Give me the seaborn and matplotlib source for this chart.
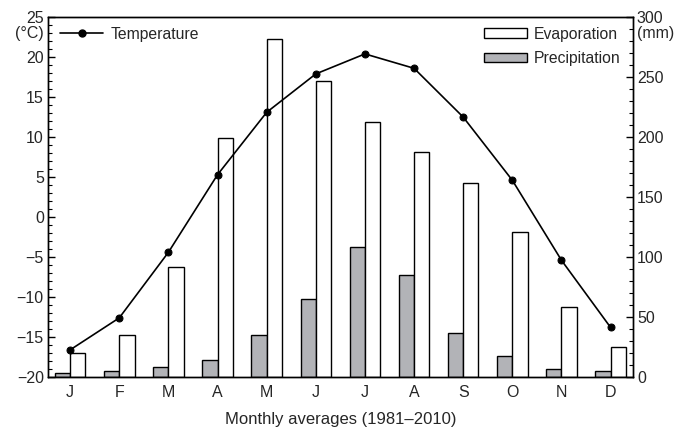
# %%
import numpy as np
import pandas as pd
import matplotlib

matplotlib.use("Agg")
import matplotlib.pyplot as plt
import seaborn as sns
from matplotlib.lines import Line2D
from matplotlib.patches import Patch
from matplotlib.ticker import MultipleLocator

# %%
meses = ["J", "F", "M", "A", "M", "J", "J", "A", "S", "O", "N", "D"]
temperatura = [-16.6, -12.6, -4.4, 5.3, 13.1, 17.9, 20.4, 18.6, 12.5, 4.6, -5.4, -13.8]
evaporacao = [20, 35, 92, 199, 282, 247, 213, 188, 162, 121, 58, 25]
precipitacao = [3, 5, 8, 14, 35, 65, 108, 85, 37, 17.5, 7, 4.7]

cinza = "#b2b3b7"

df = pd.DataFrame(
    {
        "mes": list(range(12)) * 2,
        "mm": precipitacao + evaporacao,
        "serie": ["Precipitation"] * 12 + ["Evaporation"] * 12,
    }
)

# %%
sns.set_style("ticks")
plt.rcParams["font.family"] = ["Liberation Sans", "DejaVu Sans"]
plt.rcParams["font.size"] = 11.5

fig = plt.figure(figsize=(6.9, 4.28), dpi=100)
ax = fig.add_axes([0.0696, 0.119, 0.8474, 0.841])
ax2 = ax.twinx()

# barras no eixo da direita (mm)
sns.barplot(
    data=df,
    x="mes",
    y="mm",
    hue="serie",
    hue_order=["Precipitation", "Evaporation"],
    palette={"Precipitation": cinza, "Evaporation": "white"},
    edgecolor="black",
    linewidth=1,
    width=0.62,
    saturation=1,
    errorbar=None,
    legend=False,
    ax=ax,
)
ax.set_ylim(0, 300)
ax.set(ylabel="")
ax.set_xlabel("Monthly averages (1981–2010)", fontsize=12, labelpad=8)
ax.set_xticks(range(12))
ax.set_xticklabels(meses)

# linha de temperatura no eixo da esquerda
sns.lineplot(
    x=list(range(12)),
    y=temperatura,
    color="black",
    marker="o",
    markersize=5,
    markeredgecolor="black",
    linewidth=1.2,
    ax=ax2,
)
ax2.set_ylim(-20, 25)
ax2.set_xlim(-0.45, 11.45)

ax.yaxis.tick_right()
ax2.yaxis.tick_left()
ax.yaxis.set_major_locator(MultipleLocator(50))
ax.yaxis.set_minor_locator(MultipleLocator(10))
ax2.yaxis.set_major_locator(MultipleLocator(5))
ax2.yaxis.set_minor_locator(MultipleLocator(1))

for a in (ax, ax2):
    a.tick_params(axis="y", which="major", direction="in", length=5, width=1,
                  labelsize=11.5, pad=3, color="black")
    a.tick_params(axis="y", which="minor", direction="in", length=3, width=0.8,
                  color="black")
    for s in a.spines.values():
        s.set_linewidth(1)
        s.set_color("black")
ax.tick_params(axis="x", length=0, labelsize=11.5, pad=6)
ax2.tick_params(axis="x", length=0)

fig.text(0.063, 0.922, "(°C)", fontsize=11.5, ha="right", va="center")
fig.text(0.923, 0.922, "(mm)", fontsize=11.5, ha="left", va="center")

# legendas
leg1 = ax2.legend(
    handles=[Line2D([0], [0], color="black", marker="o", markersize=5, linewidth=1.2)],
    labels=["Temperature"],
    loc="upper left",
    bbox_to_anchor=(0.005, 1.0),
    frameon=False,
    handlelength=2.7,
    handletextpad=0.5,
    borderaxespad=0.2,
    fontsize=11.3,
)
ax2.add_artist(leg1)
ax2.legend(
    handles=[
        Patch(facecolor="white", edgecolor="black", linewidth=1),
        Patch(facecolor=cinza, edgecolor="black", linewidth=1),
    ],
    labels=["Evaporation", "Precipitation"],
    loc="upper right",
    bbox_to_anchor=(0.995, 1.0),
    frameon=False,
    handlelength=2.7,
    handleheight=0.55,
    handletextpad=0.45,
    labelspacing=0.6,
    borderaxespad=0.2,
    fontsize=11.3,
)

fig.savefig("out.png", dpi=100)
